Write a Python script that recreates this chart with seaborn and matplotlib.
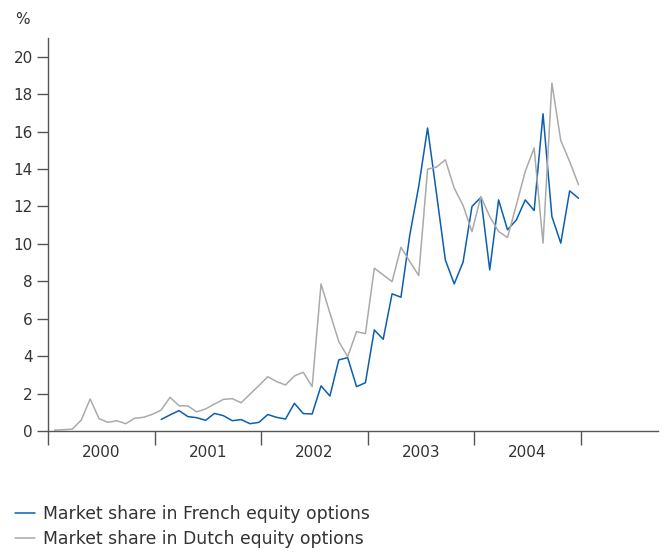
import numpy as np
import pandas as pd
import seaborn as sns
import matplotlib.pyplot as plt

# monthly market share (%), Jan 2000 - Dec 2004
years = ['2000', '2001', '2002', '2003', '2004']

dutch = [0.05, 0.07, 0.10, 0.59, 1.71, 0.66, 0.46, 0.55, 0.39, 0.68, 0.73, 0.89,
         1.12, 1.80, 1.35, 1.34, 1.02, 1.18, 1.44, 1.69, 1.73, 1.51, 1.97, 2.43,
         2.90, 2.64, 2.46, 2.94, 3.14, 2.37, 7.86, 6.30, 4.78, 3.97, 5.31, 5.20,
         8.70, 8.34, 7.98, 9.82, 9.05, 8.31, 13.99, 14.10, 14.49, 12.98, 12.05, 10.65,
         12.53, 11.46, 10.66, 10.34, 12.09, 13.87, 15.12, 10.04, 18.59, 15.52, 14.40, 13.16]

# French series starts in Jan 2001
french = [np.nan] * 12 + [
         0.62, 0.86, 1.09, 0.77, 0.71, 0.57, 0.94, 0.82, 0.55, 0.61, 0.39, 0.46,
         0.88, 0.73, 0.64, 1.48, 0.93, 0.91, 2.41, 1.87, 3.80, 3.92, 2.37, 2.58,
         5.40, 4.90, 7.33, 7.15, 10.48, 13.07, 16.19, 12.70, 9.14, 7.86, 9.03, 12.00,
         12.48, 8.61, 12.35, 10.75, 11.28, 12.35, 11.78, 16.95, 11.46, 10.04, 12.83, 12.44]

lbl_fr = 'Market share in French equity options'
lbl_nl = 'Market share in Dutch equity options'

month = np.arange(len(dutch))
df = pd.concat([
    pd.DataFrame({'month': month, 'share': french, 'series': lbl_fr}),
    pd.DataFrame({'month': month, 'share': dutch, 'series': lbl_nl}),
]).dropna()
df['x'] = df['month'] + 0.75

sns.set_style('white')
plt.rcParams['font.family'] = ['DejaVu Sans']
txt = '#333333'

fig = plt.figure(figsize=(6.65, 5.52), dpi=100)
ax = fig.add_axes([48 / 665, 1 - 431 / 552, 610 / 665, 393 / 552])

sns.lineplot(data=df, x='x', y='share', hue='series', hue_order=[lbl_fr, lbl_nl],
             palette=['#0a5fb0', '#aaaaaa'], linewidth=1.1, ax=ax, legend=False)

ax.set_xlim(0, 68.7)
ax.set_ylim(0, 21)
ax.set_yticks(range(0, 21, 2))
ax.set_xticks(range(0, 61, 12))
ax.set_xticklabels([])
ax.set_xticks(np.arange(6, 60, 12), minor=True)
ax.set_xticklabels(years, minor=True)
ax.tick_params(axis='x', which='minor', bottom=True, length=0, pad=10, labelsize=11, labelcolor=txt)
ax.tick_params(axis='x', which='major', bottom=True, length=10, width=1, color='#555555', direction='out')
ax.tick_params(axis='y', left=True, length=8, width=1, color='#555555', direction='out',
               labelsize=11, labelcolor=txt, pad=3)
ax.set_xlabel('')
ax.set_ylabel('')
for s in ['top', 'right']:
    ax.spines[s].set_visible(False)
for s in ['left', 'bottom']:
    ax.spines[s].set_color('#555555')
    ax.spines[s].set_linewidth(1)
ax.grid(False)

fig.text(15 / 665, 1 - 19 / 552, '%', fontsize=11, color=txt, va='center')

handles = ax.get_lines()[:2]
fig.legend(handles, [lbl_fr, lbl_nl], loc='upper left', bbox_to_anchor=(0.012, 1 - 498 / 552),
           frameon=False, fontsize=12.4, labelcolor=txt, handlelength=1.15,
           handletextpad=0.5, labelspacing=0.4, borderaxespad=0)

plt.savefig('out.png', dpi=100)
